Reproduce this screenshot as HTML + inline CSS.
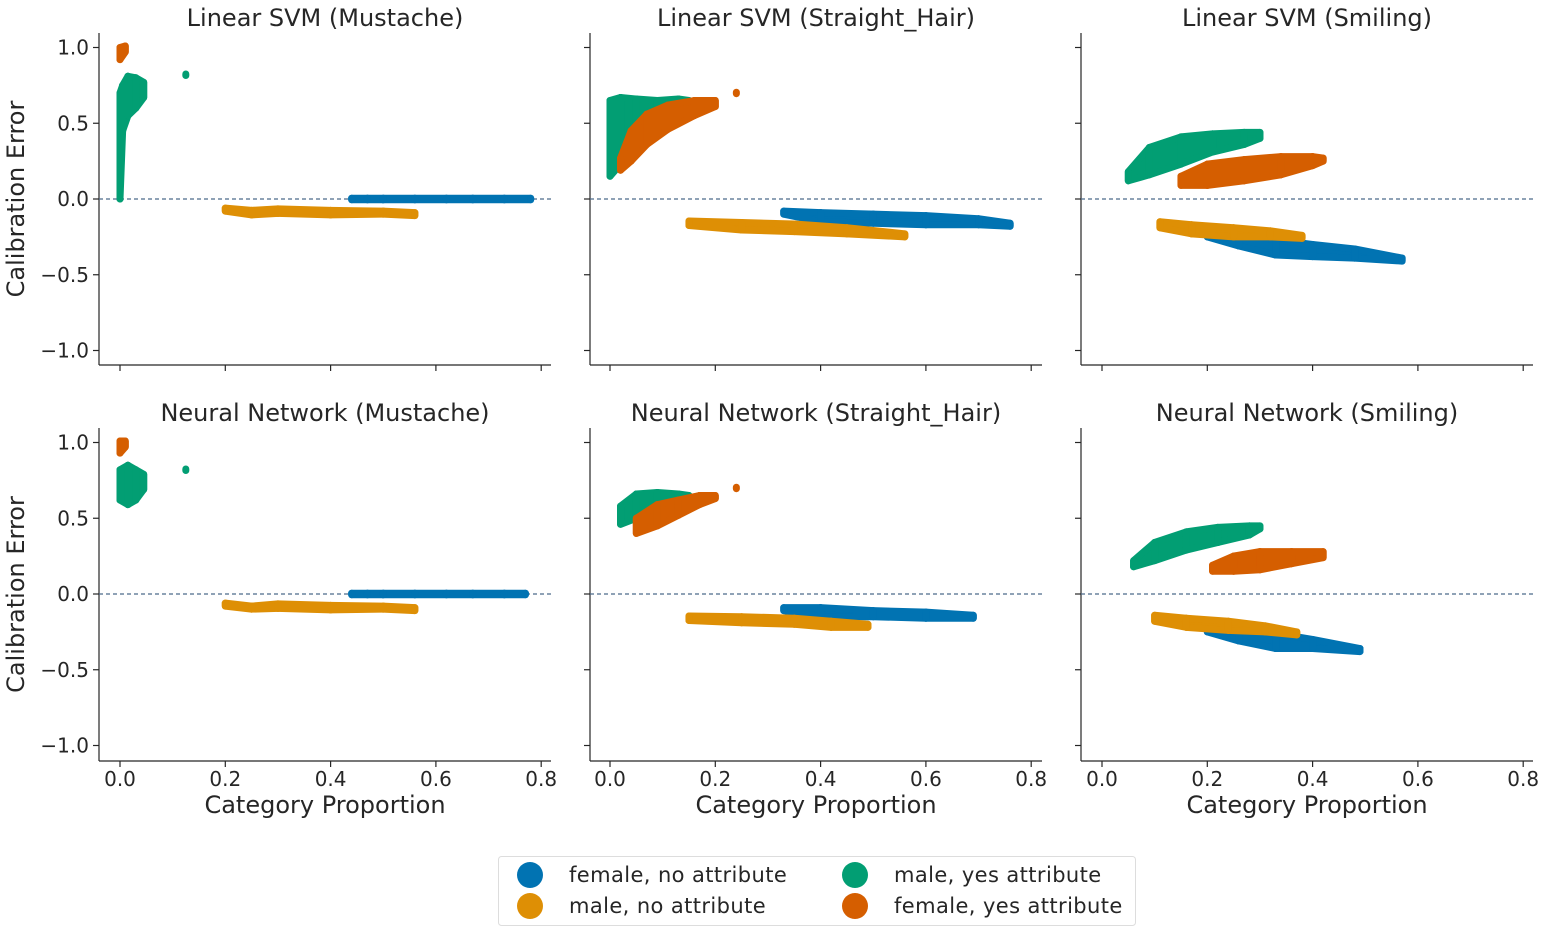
<!DOCTYPE html>
<html><head><meta charset="utf-8">
<style>
html,body{margin:0;padding:0;background:#fff;}
svg{display:block;font-family:"DejaVu Sans","Liberation Sans",sans-serif;}
</style></head>
<body>
<svg id="chart" width="1548" height="932" viewBox="0 0 1548 932" xmlns="http://www.w3.org/2000/svg"></svg>
<script>
// Data: each cluster is a list of [x, yCenter, yHalfSpread, isolated(1)/connected(0)]
const panelTitles = ["Linear SVM (Mustache)","Linear SVM (Straight_Hair)","Linear SVM (Smiling)","Neural Network (Mustache)","Neural Network (Straight_Hair)","Neural Network (Smiling)"];
const seriesNames = ["female, no attribute","male, no attribute","male, yes attribute","female, yes attribute"];
const seriesColors = ["#0173b2","#de8f05","#029e73","#d55e00"];
const xTicks = [0.0,0.2,0.4,0.6,0.8];
const yTicks = [1.0,0.5,0.0,-0.5,-1.0];
const xTickLabels = ["0.0","0.2","0.4","0.6","0.8"];
const yTickLabels = ["1.0","0.5","0.0","\u22120.5","\u22121.0"];

const blueData = [
 [[0.44,0,0.005,0],[0.47,0,0.005,0],[0.50,0,0.005,0],[0.56,0,0.005,0],[0.62,0,0.005,0],[0.67,0,0.005,0],[0.73,0,0.005,0],[0.78,0,0.005,0]],
 [[0.33,-0.09,0.01,0],[0.40,-0.12,0.03,0],[0.50,-0.13,0.03,0],[0.60,-0.14,0.03,0],[0.70,-0.15,0.02,0],[0.76,-0.17,0.01,0]],
 [[0.20,-0.23,0.02,0],[0.26,-0.27,0.04,0],[0.33,-0.32,0.05,0],[0.40,-0.34,0.04,0],[0.48,-0.36,0.03,0],[0.57,-0.40,0.01,0]],
 [[0.44,0,0.005,0],[0.47,0,0.005,0],[0.50,0,0.005,0],[0.56,0,0.005,0],[0.62,0,0.005,0],[0.67,0,0.005,0],[0.73,0,0.005,0],[0.77,0,0.005,0]],
 [[0.33,-0.10,0.01,0],[0.40,-0.12,0.03,0],[0.50,-0.13,0.02,0],[0.60,-0.14,0.02,0],[0.69,-0.15,0.01,0]],
 [[0.20,-0.23,0.02,0],[0.26,-0.27,0.04,0],[0.33,-0.31,0.05,0],[0.40,-0.33,0.03,0],[0.49,-0.37,0.01,0]]
];
const orangeData = [
 [[0.20,-0.07,0.01,0],[0.25,-0.09,0.015,0],[0.30,-0.08,0.015,0],[0.40,-0.09,0.015,0],[0.50,-0.09,0.01,0],[0.56,-0.10,0.01,0]],
 [[0.15,-0.16,0.015,0],[0.25,-0.18,0.025,0],[0.35,-0.19,0.025,0],[0.45,-0.21,0.02,0],[0.56,-0.24,0.01,0]],
 [[0.11,-0.17,0.02,0],[0.17,-0.20,0.03,0],[0.25,-0.22,0.03,0],[0.32,-0.23,0.02,0],[0.38,-0.25,0.01,0]],
 [[0.20,-0.07,0.01,0],[0.25,-0.09,0.01,0],[0.30,-0.08,0.015,0],[0.40,-0.09,0.015,0],[0.50,-0.09,0.01,0],[0.56,-0.10,0.01,0]],
 [[0.15,-0.16,0.015,0],[0.25,-0.17,0.02,0],[0.35,-0.18,0.02,0],[0.42,-0.20,0.02,0],[0.49,-0.21,0.01,0]],
 [[0.10,-0.16,0.02,0],[0.16,-0.19,0.03,0],[0.24,-0.21,0.03,0],[0.31,-0.23,0.02,0],[0.37,-0.26,0.01,0]]
];
const greenData = [
 [[0.0,0.35,0.35,0],[0.005,0.60,0.15,0],[0.015,0.68,0.13,0],[0.03,0.70,0.1,0],[0.045,0.72,0.05,0],[0.125,0.82,0.005,1]],
 [[0.0,0.40,0.25,0],[0.02,0.45,0.22,0],[0.05,0.53,0.13,0],[0.09,0.58,0.07,0],[0.13,0.61,0.05,0],[0.15,0.62,0.03,0]],
 [[0.05,0.15,0.03,0],[0.09,0.25,0.09,0],[0.15,0.32,0.09,0],[0.21,0.37,0.06,0],[0.27,0.40,0.04,0],[0.30,0.42,0.02,0]],
 [[0.0,0.72,0.1,0],[0.015,0.72,0.13,0],[0.03,0.72,0.1,0],[0.045,0.74,0.05,0],[0.125,0.82,0.005,1]],
 [[0.02,0.52,0.06,0],[0.05,0.58,0.08,0],[0.09,0.60,0.07,0],[0.13,0.62,0.04,0],[0.15,0.63,0.02,0]],
 [[0.06,0.20,0.02,0],[0.10,0.28,0.06,0],[0.16,0.35,0.06,0],[0.22,0.39,0.05,0],[0.28,0.42,0.03,0],[0.30,0.44,0.01,0]]
];
const redData = [
 [[0.0,0.96,0.04,0],[0.01,0.99,0.02,0]],
 [[0.02,0.23,0.04,0],[0.04,0.35,0.1,0],[0.07,0.46,0.1,0],[0.11,0.54,0.08,0],[0.16,0.60,0.05,0],[0.20,0.63,0.02,0],[0.24,0.70,0.005,1]],
 [[0.15,0.12,0.03,0],[0.20,0.16,0.07,0],[0.27,0.19,0.07,0],[0.34,0.22,0.06,0],[0.40,0.25,0.03,0],[0.42,0.26,0.01,0]],
 [[0.0,0.97,0.04,0],[0.01,0.99,0.02,0]],
 [[0.05,0.45,0.05,0],[0.09,0.52,0.07,0],[0.13,0.57,0.05,0],[0.17,0.62,0.03,0],[0.20,0.64,0.01,0],[0.24,0.70,0.005,1]],
 [[0.21,0.17,0.02,0],[0.25,0.20,0.05,0],[0.30,0.22,0.06,0],[0.36,0.24,0.04,0],[0.42,0.26,0.02,0]]
];
const allSeries = [blueData, orangeData, greenData, redData];

const NS = "http://www.w3.org/2000/svg";
const svg = document.getElementById('chart');
function mk(tag, attrs, parent){const e=document.createElementNS(NS,tag);for(const k in attrs)e.setAttribute(k,attrs[k]);(parent||svg).appendChild(e);return e;}

const colX0 = [120, 610, 1102];
const pxPerX = 526.5;
const rowY0 = [199, 594];
const pxPerY = 151.5;
const axLeft = [99, 590, 1081];
const axWidth = 452;
const rowTop = [33, 428];
const rowBottom = [365, 761];
const textColor = "#262626";

for (let p=0;p<6;p++){
  const c=p%3, r=Math.floor(p/3);
  const X = v => colX0[c] + v*pxPerX;
  const Y = v => rowY0[r] - v*pxPerY;
  const g = mk('g',{});
  
  
  const sl = mk('line',{x1:axLeft[c],x2:axLeft[c],y1:rowTop[r],y2:rowBottom[r],stroke:textColor,'stroke-width':1.2},g);
  
  
  const sb = mk('line',{x1:axLeft[c],x2:axLeft[c]+axWidth,y1:rowBottom[r],y2:rowBottom[r],stroke:textColor,'stroke-width':1.2},g);
  
  
  xTicks.forEach((t,i)=>{
    mk('line',{x1:X(t),x2:X(t),y1:rowBottom[r],y2:rowBottom[r]+6,stroke:textColor,'stroke-width':1.2},g);
    if(r===1){
      const tl=mk('text',{x:X(t),y:rowBottom[r]+25,'text-anchor':'middle','font-size':20,fill:textColor},g);
      tl.textContent=xTickLabels[i];
      
      
    }
  });
  yTicks.forEach((t,i)=>{
    mk('line',{x1:axLeft[c]-6,x2:axLeft[c],y1:Y(t),y2:Y(t),stroke:textColor,'stroke-width':1.2},g);
    if(c===0){
      const tl=mk('text',{x:axLeft[c]-10,y:Y(t)+7,'text-anchor':'end','font-size':20,fill:textColor},g);
      tl.textContent=yTickLabels[i];
      
      
    }
  });
  const zl = mk('line',{x1:axLeft[c],x2:axLeft[c]+axWidth,y1:Y(0),y2:Y(0),stroke:'#4c6a8a','stroke-width':1.2,'stroke-dasharray':'4,3'},g);
  
  
  allSeries.forEach((sd,si)=>{
    const pts = sd[p];
    const sg = mk('g',{fill:seriesColors[si],stroke:seriesColors[si]},g);
    
    
    for(let k=0;k<pts.length-1;k++){
      const a=pts[k], b=pts[k+1];
      if (a[3]===1 || b[3]===1) continue;
      const poly = mk('polygon',{points:[X(a[0])+','+Y(a[1]+a[2]),X(b[0])+','+Y(b[1]+b[2]),X(b[0])+','+Y(b[1]-b[2]),X(a[0])+','+Y(a[1]-a[2])].join(' '),'stroke-width':7,'stroke-linejoin':'round'},sg);
      
      
    }
    pts.forEach(pt=>{
      const ln = mk('line',{x1:X(pt[0]),x2:X(pt[0]),y1:Y(pt[1]+pt[2]),y2:Y(pt[1]-pt[2]),'stroke-width':7,'stroke-linecap':'round'},sg);
      
      
    });
  });
  const tt = mk('text',{x:axLeft[c]+axWidth/2,y:rowTop[r]-7,'text-anchor':'middle','font-size':24,fill:textColor},g);
  tt.textContent=panelTitles[p];
  
  
  if(r===1){
    const xl = mk('text',{x:axLeft[c]+axWidth/2,y:813,'text-anchor':'middle','font-size':24,fill:textColor},g);
    xl.textContent="Category Proportion";
    
    
  }
  if(c===0){
    const yl = mk('text',{x:0,y:0,'text-anchor':'middle','font-size':24,fill:textColor,transform:'translate(24,'+((rowTop[r]+rowBottom[r])/2)+') rotate(-90)'},g);
    yl.textContent="Calibration Error";
    
    
  }
}
const lg = mk('g',{});


mk('rect',{x:498.5,y:856.5,width:637,height:69,rx:3,fill:'#fff',stroke:'#dddddd'},lg);
const legPos = [[530,875],[530,906],[855,875],[855,906]];
seriesNames.forEach((n,i)=>{
  const e = mk('g',{},lg);
  
  
  mk('circle',{cx:legPos[i][0],cy:legPos[i][1],r:13,fill:seriesColors[i]},e);
  const t = mk('text',{x:legPos[i][0]+39,y:legPos[i][1]+7,'font-size':21,fill:textColor,'letter-spacing':'0.4'},e);
  t.textContent=n;
});
</script>
</body></html>
